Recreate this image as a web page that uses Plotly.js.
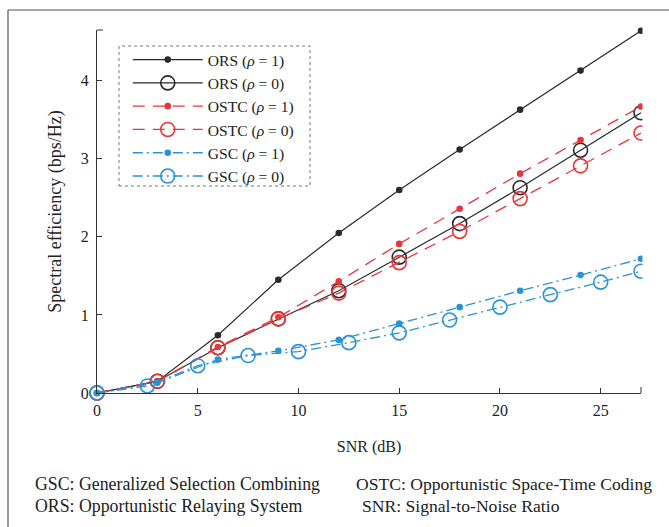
<!DOCTYPE html>
<html>
<head>
<meta charset="utf-8">
<script src="https://cdn.plot.ly/plotly-3.0.1.min.js"></script>
<style>
  html, body { margin: 0; padding: 0; background: #fff; }
  #chart { width: 669px; height: 527px; }
</style>
</head>
<body>
<div id="chart"></div>
<script>
// SNR grid (dB)
const snrA = [0, 3, 6, 9, 12, 15, 18, 21, 24, 27];
const snrB = [0, 2.5, 5, 7.5, 10, 12.5, 15, 17.5, 20, 22.5, 25, 27];

// Spectral efficiency (bps/Hz)
const orsRho1  = [0, 0.15, 0.74, 1.45, 2.05, 2.60, 3.12, 3.63, 4.13, 4.64];
const orsRho0  = [0, 0.15, 0.58, 0.95, 1.31, 1.74, 2.17, 2.63, 3.11, 3.59];
const ostcRho1 = [0, 0.15, 0.59, 0.97, 1.43, 1.91, 2.36, 2.81, 3.24, 3.67];
const ostcRho0 = [0, 0.15, 0.58, 0.95, 1.28, 1.67, 2.07, 2.49, 2.91, 3.33];
const gscRho1  = [0, 0.13, 0.43, 0.54, 0.68, 0.89, 1.10, 1.31, 1.51, 1.72];
const gscRho0  = [0, 0.09, 0.35, 0.48, 0.53, 0.645, 0.77, 0.935, 1.10, 1.26, 1.42, 1.56];

const names = ['ORS (<i>ρ</i> = 1)', 'ORS (<i>ρ</i> = 0)', 'OSTC (<i>ρ</i> = 1)',
               'OSTC (<i>ρ</i> = 0)', 'GSC (<i>ρ</i> = 1)', 'GSC (<i>ρ</i> = 0)'];

const xTicks = [0, 5, 10, 15, 20, 25];
const yTicks = [0, 1, 2, 3, 4];

const footLines = [
  ['GSC: Generalized Selection Combining', 'OSTC: Opportunistic Space-Time Coding'],
  ['ORS: Opportunistic Relaying System', 'SNR: Signal-to-Noise Ratio']
];

const BLACK = '#2b2b2b', RED = '#e8363b', BLUE = '#2a93d5';
const SERIF = '"Liberation Serif", "DejaVu Serif", serif';

function tr(x, y, name, color, dash, symbol, size, width) {
  return {
    type: 'scatter', mode: 'lines+markers', x: x, y: y, name: name,
    line: {color: color, width: width, dash: dash},
    marker: {symbol: symbol, size: size, color: color, line: {color: color, width: 1.6}},
    cliponaxis: false
  };
}

const data = [
  tr(snrA, orsRho1, names[0], BLACK, 'solid', 'circle', 5, 1.2),
  tr(snrA, orsRho0, names[1], BLACK, 'solid', 'circle-open', 14, 1.2),
  tr(snrA, ostcRho1, names[2], RED, '12px,8px', 'circle', 5, 1.3),
  tr(snrA, ostcRho0, names[3], RED, '12px,8px', 'circle-open', 14, 1.3),
  tr(snrA, gscRho1, names[4], BLUE, '10px,4px,2px,4px', 'circle', 5, 1.3),
  tr(snrB, gscRho0, names[5], BLUE, '10px,4px,2px,4px', 'circle-open', 14, 1.3)
];

const px = 1 / 544, py = 1 / 363;
const annotations = [];
footLines.forEach((row, i) => {
  annotations.push({xref: 'paper', yref: 'paper', x: (33 - 97) * px, y: (393 - 484 - i * 22) * py,
    xanchor: 'left', yanchor: 'middle', showarrow: false, text: row[0],
    font: {family: SERIF, size: 17.8, color: '#222'}});
  annotations.push({xref: 'paper', yref: 'paper', x: (354 - 97) * px + (i ? 6 * px : 0), y: (393 - 484 - i * 22) * py,
    xanchor: 'left', yanchor: 'middle', showarrow: false, text: row[1],
    font: {family: SERIF, size: 17.6, color: '#222'}});
});

const layout = {
  width: 669, height: 527,
  margin: {l: 97, r: 28, t: 30, b: 134},
  paper_bgcolor: '#fff', plot_bgcolor: '#fff',
  font: {family: SERIF, color: '#222'},
  showlegend: true,
  legend: {x: 0.04 + 9 * px, y: 0.956 + 3 * py, xanchor: 'left', yanchor: 'top', bgcolor: 'rgba(0,0,0,0)',
           borderwidth: 0, font: {family: SERIF, size: 15.6, color: '#222'}, itemwidth: 70,
           tracegroupgap: 0},
  xaxis: {range: [0, 27], tickvals: xTicks, ticks: 'inside', ticklen: 5, tickcolor: '#333',
          showline: true, linecolor: '#333', linewidth: 1, showgrid: false, zeroline: false,
          ticklabelstandoff: 3,
          tickfont: {family: SERIF, size: 16, color: '#222'},
          title: {text: 'SNR (dB)', font: {family: SERIF, size: 16, color: '#222'}, standoff: 22}},
  yaxis: {range: [0, 4.65], tickvals: yTicks, ticks: 'inside', ticklen: 5, tickcolor: '#333',
          showline: true, linecolor: '#333', linewidth: 1, showgrid: false, zeroline: false,
          ticklabelstandoff: 4,
          tickfont: {family: SERIF, size: 16, color: '#222'},
          title: {text: 'Spectral efficiency (bps/Hz)', font: {family: SERIF, size: 18, color: '#222'}, standoff: 14}},
  annotations: annotations,
  shapes: [
    // hide markers beyond the right end of the axes
    {type: 'rect', xref: 'paper', yref: 'paper', x0: 1 + 1.5 * px, x1: 1.2, y0: -2 * py, y1: 1 + 15 * py,
     fillcolor: '#fff', line: {width: 0}, layer: 'above'},
    // axis end marks
    {type: 'line', xref: 'paper', yref: 'paper', x0: 0, x1: 6 * px, y0: 1, y1: 1, line: {color: '#333', width: 1}},
    {type: 'line', xref: 'paper', yref: 'paper', x0: 1, x1: 1, y0: 0, y1: 6 * py, line: {color: '#333', width: 1}},
    // dotted legend frame
    {type: 'rect', xref: 'paper', yref: 'paper', x0: (119 - 97) * px, x1: (310 - 97) * px,
     y0: (393 - 186) * py, y1: (393 - 46) * py, line: {color: '#777', width: 1, dash: 'dot'}, fillcolor: 'rgba(0,0,0,0)'},
    // outer figure frame (left and top)
    {type: 'line', xref: 'paper', yref: 'paper', x0: (8 - 97) * px, x1: (8 - 97) * px, y0: (393 - 527) * py, y1: (393 - 10) * py,
     line: {color: '#555', width: 1.2}},
    {type: 'line', xref: 'paper', yref: 'paper', x0: (8 - 97) * px, x1: (669 - 97) * px, y0: (393 - 10) * py, y1: (393 - 10) * py,
     line: {color: '#555', width: 1.2}}
  ]
};

Plotly.newPlot('chart', data, layout, {displayModeBar: false, staticPlot: true});
</script>
</body>
</html>
